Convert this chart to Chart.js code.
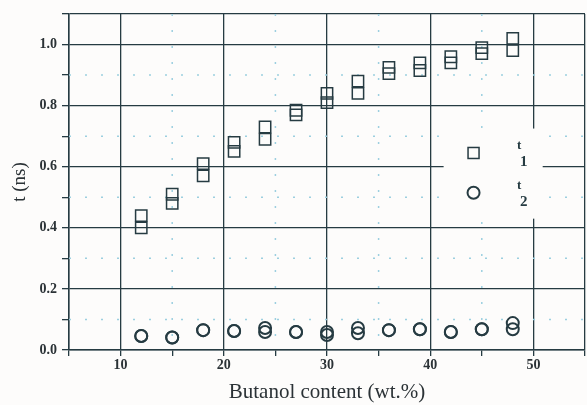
<!DOCTYPE html>
<html>
<head>
<meta charset="utf-8">
<script src="https://cdn.jsdelivr.net/npm/chart.js@4"></script>
<style>
  html, body { margin: 0; padding: 0; background: #fdfcfb; }
  #wrap { width: 587px; height: 405px; }
</style>
</head>
<body>
<div id="wrap"><canvas id="chart-lifetimes" width="587" height="405"></canvas></div>
<script>
// butanol content (wt.%) and the two lifetimes, two measurements each
const butanol = [12, 15, 18, 21, 24, 27, 30, 33, 36, 39, 42, 45, 48];
const tau1Low = [0.40, 0.48, 0.57, 0.65, 0.69, 0.77, 0.81, 0.84, 0.905, 0.915, 0.94, 0.97, 0.98];
const tau1High = [0.44, 0.51, 0.61, 0.68, 0.73, 0.785, 0.84, 0.88, 0.925, 0.94, 0.96, 0.99, 1.02];
const tau2Low = [0.046, 0.041, 0.065, 0.062, 0.059, 0.059, 0.049, 0.055, 0.065, 0.068, 0.059, 0.068, 0.068];
const tau2High = [0.046, 0.041, 0.065, 0.062, 0.072, 0.059, 0.059, 0.072, 0.065, 0.068, 0.059, 0.068, 0.088];

const xTicks = [10, 20, 30, 40, 50];
const yTicks = [0.0, 0.2, 0.4, 0.6, 0.8, 1.0];
const legendLabels = ["1", "2"];

const ink = "#263b42";
const serif = "'Liberation Serif', 'DejaVu Serif', serif";

const toPoints = (xs, ys) => xs.map((x, i) => ({ x: x, y: ys[i] }));

const isMajorX = (v, scale) =>
  xTicks.includes(v) || v === scale.min || v === scale.max;
const isMajorY = (v, scale) =>
  yTicks.some((t) => Math.abs(t - v) < 1e-6) || Math.abs(v - scale.max) < 1e-6;

const squareStyle = {
  pointStyle: "rect",
  pointRadius: 8,
  pointBorderWidth: 1.5,
  pointBackgroundColor: "rgba(0,0,0,0)",
  borderColor: ink,
  pointBorderColor: ink,
  showLine: false,
};
const circleStyle = {
  pointStyle: "circle",
  pointRadius: 6,
  pointBorderWidth: 2,
  pointBackgroundColor: "rgba(0,0,0,0)",
  borderColor: ink,
  pointBorderColor: ink,
  showLine: false,
};

// dotted minor grid, white legend box, legend symbols
const decorPlugin = {
  id: "decor",
  beforeDatasetsDraw(chart) {
    const { ctx, chartArea, scales } = chart;
    const xs = scales.x;
    const ys = scales.y;
    ctx.save();
    ctx.strokeStyle = "#9ccfe0";
    ctx.lineWidth = 1.5;
    ctx.setLineDash([2, 14]);
    xs.ticks.forEach((t) => {
      if (isMajorX(t.value, xs)) return;
      const px = xs.getPixelForValue(t.value);
      ctx.beginPath();
      ctx.moveTo(px, chartArea.top);
      ctx.lineTo(px, chartArea.bottom);
      ctx.stroke();
    });
    ys.ticks.forEach((t) => {
      if (isMajorY(t.value, ys)) return;
      const py = ys.getPixelForValue(t.value);
      ctx.beginPath();
      ctx.moveTo(chartArea.left, py);
      ctx.lineTo(chartArea.right, py);
      ctx.stroke();
    });
    ctx.setLineDash([]);

    // legend area blanks out the grid behind it
    const bx0 = xs.getPixelForValue(41.3);
    const bx1 = xs.getPixelForValue(50.9);
    const by0 = ys.getPixelForValue(0.725);
    const by1 = ys.getPixelForValue(0.43);
    ctx.fillStyle = "#fdfcfb";
    ctx.fillRect(bx0, by0, bx1 - bx0, by1 - by0);
    ctx.restore();
  },
  afterDatasetsDraw(chart) {
    const { ctx, scales } = chart;
    const xs = scales.x;
    const ys = scales.y;
    const symX = xs.getPixelForValue(44.2);
    const txtX = xs.getPixelForValue(48.4);
    const rows = [ys.getPixelForValue(0.645), ys.getPixelForValue(0.515)];
    ctx.save();
    ctx.strokeStyle = ink;
    ctx.lineWidth = 1.5;
    ctx.strokeRect(symX - 5.5, rows[0] - 5.5, 11, 11);
    ctx.lineWidth = 2;
    ctx.beginPath();
    ctx.arc(symX, rows[1], 6, 0, Math.PI * 2);
    ctx.stroke();
    ctx.fillStyle = ink;
    ctx.textAlign = "left";
    ctx.textBaseline = "middle";
    rows.forEach((ry, i) => {
      ctx.font = "bold 13px " + serif;
      ctx.fillText("t", txtX, ry - 7);
      ctx.font = "bold 15px " + serif;
      ctx.fillText(legendLabels[i], txtX + 3, ry + 9);
    });
    ctx.restore();
  },
};

new Chart(document.getElementById("chart-lifetimes"), {
  type: "scatter",
  data: {
    datasets: [
      { label: "t1", data: toPoints(butanol, tau1Low), ...squareStyle },
      { label: "t1", data: toPoints(butanol, tau1High), ...squareStyle },
      { label: "t2", data: toPoints(butanol, tau2Low), ...circleStyle },
      { label: "t2", data: toPoints(butanol, tau2High), ...circleStyle },
    ],
  },
  options: {
    responsive: false,
    animation: false,
    layout: { autoPadding: false, padding: { top: 14, right: 2, left: 0, bottom: 0 } },
    plugins: {
      legend: { display: false },
      tooltip: { enabled: false },
    },
    scales: {
      x: {
        type: "linear",
        min: 5,
        max: 55,
        afterFit: (scale) => {
          scale.height = 55;
        },
        afterBuildTicks: (scale) => {
          const t = [];
          for (let v = 5; v <= 55; v += 5) t.push({ value: v });
          scale.ticks = t;
        },
        ticks: {
          autoSkip: false,
          maxRotation: 0,
          padding: 1,
          color: "#2b3236",
          font: { family: serif, size: 14, weight: "bold" },
          callback: (v) => (xTicks.includes(v) ? String(v) : ""),
        },
        grid: {
          color: (c) => (isMajorX(c.tick.value, c.scale) ? ink : "rgba(0,0,0,0)"),
          tickColor: ink,
          lineWidth: 1.3,
          tickLength: 6,
        },
        border: { color: ink, width: 1.5 },
        title: {
          display: true,
          text: "Butanol content (wt.%)",
          color: "#2b3236",
          font: { family: serif, size: 21 },
          padding: { top: 0, bottom: 0 },
        },
      },
      y: {
        type: "linear",
        min: 0,
        max: 1.1,
        afterFit: (scale) => {
          scale.width = 69;
        },
        afterBuildTicks: (scale) => {
          const t = [];
          for (let i = 0; i <= 11; i++) t.push({ value: i / 10 });
          scale.ticks = t;
        },
        ticks: {
          autoSkip: false,
          padding: 5,
          color: "#2b3236",
          font: { family: serif, size: 14, weight: "bold" },
          callback: (v) => {
            const hit = yTicks.find((t) => Math.abs(t - v) < 1e-6);
            return hit === undefined ? "" : hit.toFixed(1);
          },
        },
        grid: {
          color: (c) => (isMajorY(c.tick.value, c.scale) ? ink : "rgba(0,0,0,0)"),
          tickColor: ink,
          lineWidth: 1.3,
          tickLength: 7,
        },
        border: { color: ink, width: 1.5 },
        title: {
          display: true,
          text: "t (ns)",
          color: "#2b3236",
          font: { family: serif, size: 19 },
          padding: { top: 9, bottom: 0 },
        },
      },
    },
  },
  plugins: [decorPlugin],
});
</script>
</body>
</html>
